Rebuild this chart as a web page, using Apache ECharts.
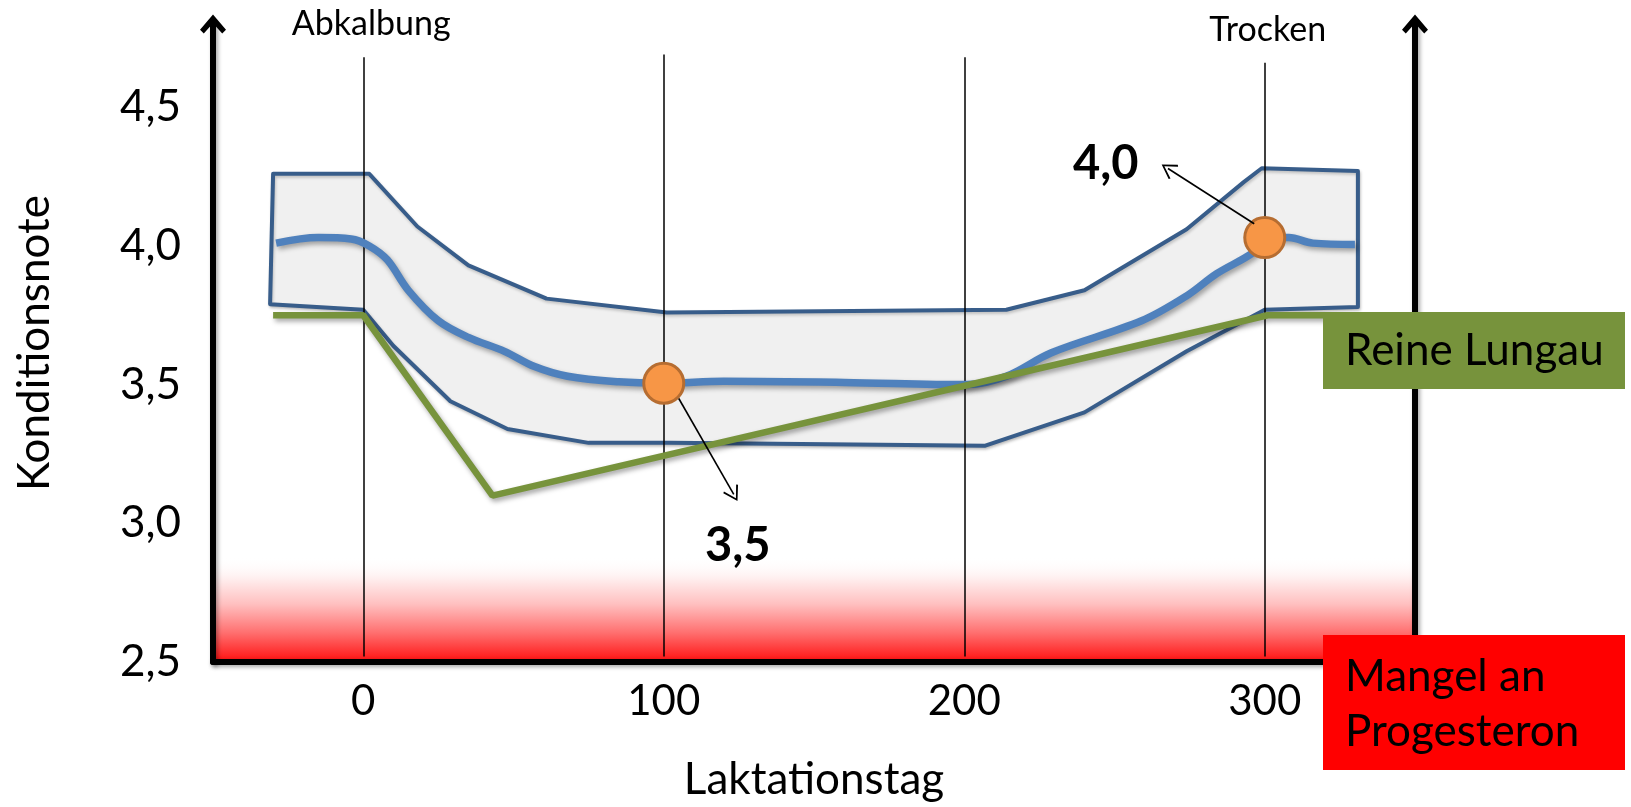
<!DOCTYPE html>
<html><head><meta charset="utf-8">
<script src="https://cdn.jsdelivr.net/npm/echarts@6/dist/echarts.min.js"></script>
<style>html,body{margin:0;padding:0;background:#fff}#c{width:1631px;height:807px}</style>
</head><body><div id="c"></div>
<script>
// ---- data ----
const xTickLabels = [0, 100, 200, 300];
const yTickLabels = [2.5, 3.0, 3.5, 4.0, 4.5];
const markerDays = [0, 100, 200, 300];
const markerTops = [4.68, 4.69, 4.68, 4.66];
const markerNames = ['Abkalbung', '', '', 'Trocken'];
const upperDays = [-30, 2, 18, 35, 61, 101, 214, 240, 274, 293, 299, 331];
const upperVals = [4.26, 4.26, 4.07, 3.93, 3.81, 3.76, 3.77, 3.84, 4.06, 4.23, 4.28, 4.27];
const lowerDays = [-31, 0, 10, 29, 48, 75, 102, 207, 240, 274, 300, 331];
const lowerVals = [3.79, 3.77, 3.64, 3.44, 3.34, 3.29, 3.29, 3.28, 3.40, 3.62, 3.77, 3.78];
const meanDays = [-29, -15, -4, 2, 8, 15, 25, 35, 47, 57, 68, 85, 100, 120, 160, 201, 214, 229, 259, 274, 284, 296, 301, 308, 316, 330];
const meanVals = [4.01, 4.03, 4.025, 4.0, 3.95, 3.84, 3.73, 3.67, 3.62, 3.565, 3.53, 3.51, 3.505, 3.512, 3.508, 3.50, 3.53, 3.615, 3.73, 3.82, 3.90, 3.975, 4.03, 4.03, 4.01, 4.005];
const lungauDays = [-30, 0, 43, 301, 320];
const lungauVals = [3.75, 3.75, 3.10, 3.75, 3.75];
const pointDays = [100, 300];
const pointVals = [3.505, 4.03];
const calloutLabels = ['3,5', '4,0'];
const calloutFrom = [[105, 3.45], [296.5, 4.08]];
const calloutTo = [[123.3, 3.104], [267.8, 4.279]];
const calloutTextPos = [[124.6, 2.917], [247.1, 4.295]];
const deficitRange = [2.5, 2.88];
const xRange = [-50, 350];
const yRange = [2.5, 4.8];

const FONT = 'Lato';
const chevron = 'path://M12,0 L24,14 L20.5,17.5 L12,8 L3.5,17.5 L0,14 Z';
const thinChevron = 'path://M8,0 L16,13 L14.6,14.2 L8,3 L1.4,14.2 L0,13 Z';
const axisLineStyle = {color: '#000', width: 6, shadowColor: 'rgba(0,0,0,0.35)', shadowBlur: 4, shadowOffsetX: 2, shadowOffsetY: 2};
const lineShadow = {shadowColor: 'rgba(0,0,0,0.35)', shadowBlur: 5, shadowOffsetX: 2, shadowOffsetY: 3};

const chart = echarts.init(document.getElementById('c'), null, {renderer: 'canvas'});

const yFmt = v => yTickLabels.some(t => Math.abs(t - v) < 1e-6) ? v.toFixed(1).replace('.', ',') : '';

const option = {
  animation: false,
  backgroundColor: '#fff',
  textStyle: {fontFamily: FONT},
  grid: {left: 213, right: 216, top: 24, bottom: 144},
  xAxis: {
    type: 'value', min: xRange[0], max: xRange[1], interval: 50, z: 8,
    axisLine: {show: true, onZero: false, lineStyle: axisLineStyle},
    axisTick: {show: false}, splitLine: {show: false},
    axisLabel: {fontSize: 42, color: '#000', fontFamily: FONT, margin: 18,
      formatter: v => xTickLabels.indexOf(v) >= 0 ? String(v) : ''},
    name: 'Laktationstag', nameLocation: 'middle', nameGap: 96,
    nameTextStyle: {fontSize: 44, color: '#000', fontFamily: FONT}
  },
  yAxis: [{
    type: 'value', min: yRange[0], max: yRange[1], interval: 0.5, z: 8,
    axisLine: {show: true, onZero: false, lineStyle: axisLineStyle, symbol: ['none', chevron], symbolSize: [26, 22]},
    axisTick: {show: false}, splitLine: {show: false},
    axisLabel: {fontSize: 44, color: '#000', fontFamily: FONT, margin: 32, formatter: yFmt, showMaxLabel: false},
    name: 'Konditionsnote', nameLocation: 'middle', nameGap: 156,
    nameTextStyle: {fontSize: 44, color: '#000', fontFamily: FONT}
  }, {
    type: 'value', position: 'right', min: yRange[0], max: yRange[1], interval: 0.5, z: 8,
    axisLine: {show: true, onZero: false, lineStyle: axisLineStyle, symbol: ['none', chevron], symbolSize: [26, 22]},
    axisTick: {show: false}, splitLine: {show: false}, axisLabel: {show: false}
  }],
  series: [
    {
      name: 'Bereich', type: 'custom', z: 2,
      data: [[0, 3.5]],
      renderItem: function (params, api) {
        const pts = [];
        for (let i = 0; i < upperDays.length; i++) pts.push(api.coord([upperDays[i], upperVals[i]]));
        for (let i = lowerDays.length - 1; i >= 0; i--) pts.push(api.coord([lowerDays[i], lowerVals[i]]));
        return {type: 'polygon', shape: {points: pts},
          style: {fill: '#F0F0F0', stroke: '#385D8A', lineWidth: 4, lineJoin: 'round',
            shadowColor: 'rgba(0,0,0,0.2)', shadowBlur: 3, shadowOffsetX: 1, shadowOffsetY: 2}};
      },
      markArea: {
        silent: true, z: 1,
        itemStyle: {color: {type: 'linear', x: 0, y: 0, x2: 0, y2: 1, colorStops: [
          {offset: 0, color: 'rgba(255,255,255,0)'},
          {offset: 0.2, color: '#fff0f0'},
          {offset: 0.45, color: '#ffc0c0'},
          {offset: 0.72, color: '#ff7070'},
          {offset: 1, color: '#ff1010'}]}},
        data: [[{coord: [xRange[0], deficitRange[0]]}, {coord: [xRange[1], deficitRange[1]]}]]
      }
    },
    {
      name: 'Marker', type: 'line', data: [], z: 3,
      markLine: {
        silent: true, z: 3, symbol: ['none', 'none'],
        lineStyle: {color: '#000', width: 1.5, type: 'solid'},
        label: {show: false},
        data: markerDays.map((d, i) => [
          {coord: [d, 2.52]},
          {coord: [d, markerTops[i]],
            label: markerNames[i] ? {show: true, formatter: markerNames[i], position: 'end', distance: 16,
              fontSize: 34, color: '#000', fontFamily: FONT, offset: [i === 0 ? 8 : 3, 0]} : {show: false}}
        ])
      }
    },
    {
      name: 'Mittel', type: 'line', z: 4, smooth: 0.35, symbol: 'none',
      data: meanDays.map((d, i) => [d, meanVals[i]]),
      lineStyle: Object.assign({color: '#4F81BD', width: 7.5}, lineShadow)
    },
    {
      name: 'Reine Lungau', type: 'line', z: 5, symbol: 'none',
      data: lungauDays.map((d, i) => [d, lungauVals[i]]),
      lineStyle: Object.assign({color: '#77933C', width: 6.5}, lineShadow)
    },
    {
      name: 'Punkte', type: 'scatter', z: 6, symbol: 'circle', symbolSize: 40,
      data: pointDays.map((d, i) => [d, pointVals[i]]),
      itemStyle: {color: '#F79646', borderColor: '#B66D31', borderWidth: 3, opacity: 1},
      markLine: {
        silent: true, z: 7, symbol: ['none', thinChevron], symbolSize: [17, 15],
        lineStyle: {color: '#000', width: 1.6, type: 'solid'},
        label: {show: false},
        data: calloutFrom.map((f, i) => [{coord: f}, {coord: calloutTo[i]}])
      },
      markPoint: {
        silent: true, z: 7, symbol: 'circle', symbolSize: 1,
        itemStyle: {color: 'rgba(0,0,0,0)'},
        label: {show: true, position: 'inside', formatter: '{b}', fontSize: 47, fontWeight: 'bold', color: '#000', fontFamily: FONT},
        data: calloutTextPos.map((p, i) => ({name: calloutLabels[i], coord: p}))
      }
    }
  ],
  graphic: [
    {type: 'rect', z: 100, shape: {x: 1323, y: 312, width: 302, height: 77}, style: {fill: '#77933C'}},
    {type: 'text', z: 101, x: 1345, y: 351, style: {text: 'Reine Lungau', fontSize: 44, fontFamily: FONT, fill: '#000', verticalAlign: 'middle'}},
    {type: 'rect', z: 100, shape: {x: 1323, y: 635, width: 302, height: 135}, style: {fill: '#FF0000'}},
    {type: 'text', z: 101, x: 1345, y: 704, style: {text: 'Mangel an\nProgesteron', fontSize: 44, lineHeight: 55, fontFamily: FONT, fill: '#000', verticalAlign: 'middle'}}
  ]
};
chart.setOption(option);
</script>
</body></html>
